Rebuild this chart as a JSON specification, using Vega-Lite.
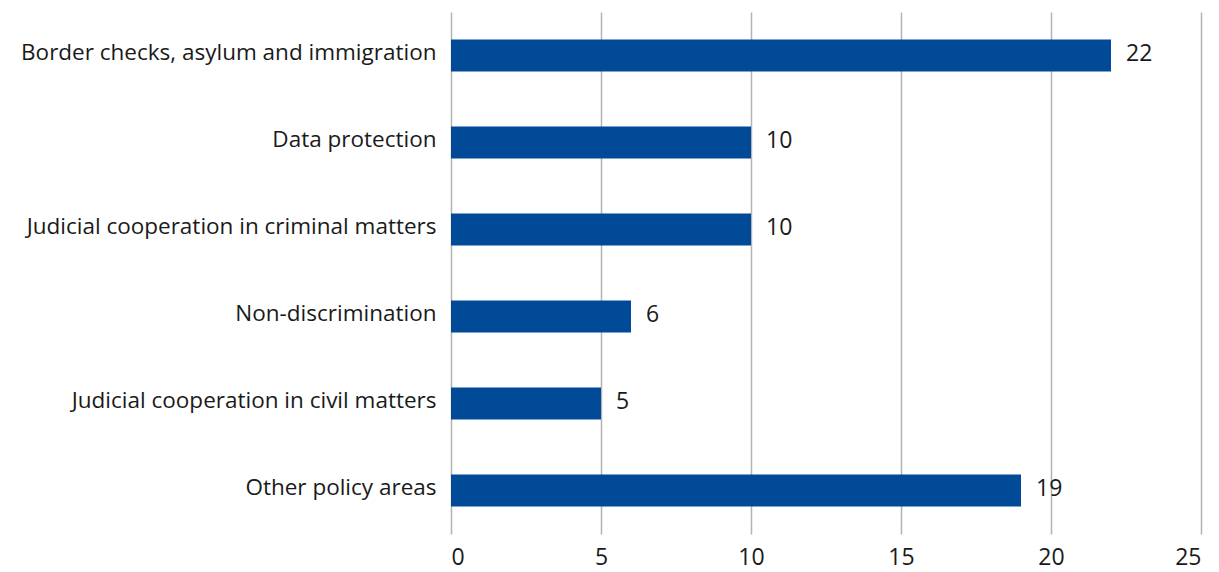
{
  "$schema": "https://vega.github.io/schema/vega-lite/v6.json",
  "width": 750,
  "height": 522,
  "autosize": {"type": "none"},
  "padding": {"left": 451, "top": 12, "right": 18, "bottom": 38},
  "background": "white",
  "config": {
    "view": {"stroke": null},
    "font": "Open Sans"
  },
  "data": {
    "values": [
      {"area": "Border checks, asylum and immigration", "count": 22},
      {"area": "Data protection", "count": 10},
      {"area": "Judicial cooperation in criminal matters", "count": 10},
      {"area": "Non-discrimination", "count": 6},
      {"area": "Judicial cooperation in civil matters", "count": 5},
      {"area": "Other policy areas", "count": 19}
    ]
  },
  "encoding": {
    "y": {
      "field": "area",
      "type": "nominal",
      "sort": null,
      "title": null,
      "scale": {"paddingInner": 0.63, "paddingOuter": 0.315},
      "axis": {
        "domain": false,
        "ticks": false,
        "labelFontSize": 22.5,
        "labelColor": "#1a1a1a",
        "labelPadding": 15,
        "labelOffset": -3,
        "labelLimit": 460
      }
    },
    "x": {
      "field": "count",
      "type": "quantitative",
      "title": null,
      "scale": {"domain": [0, 25], "nice": false},
      "axis": {
        "values": [0, 5, 10, 15, 20, 25],
        "domain": false,
        "ticks": false,
        "grid": true,
        "gridColor": "#b3b3b3",
        "gridWidth": 1.5,
        "labelFontSize": 23,
        "labelColor": "#1a1a1a",
        "labelPadding": 12
      }
    }
  },
  "layer": [
    {"mark": {"type": "bar", "color": "#004a97"}},
    {
      "mark": {"type": "text", "align": "left", "dx": 15, "dy": -2, "fontSize": 23, "color": "#1a1a1a", "baseline": "middle"},
      "encoding": {"text": {"field": "count", "type": "quantitative"}}
    }
  ]
}
